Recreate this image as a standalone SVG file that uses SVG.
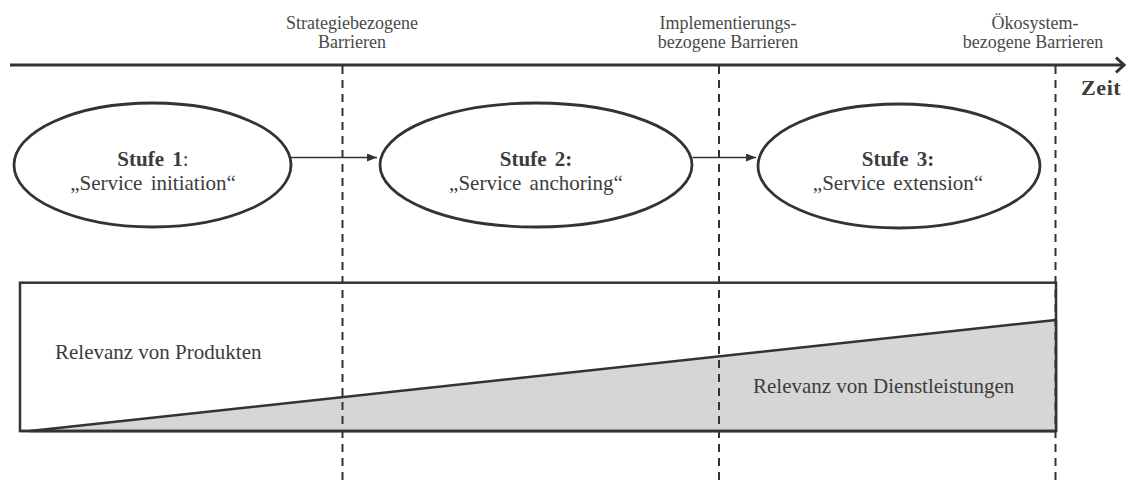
<svg xmlns="http://www.w3.org/2000/svg" width="1126" height="483" viewBox="0 0 1126 483">
<style>
.t{font-family:"Liberation Serif","Times New Roman",serif;fill:#3c3c3c}
.lbl{font-size:18px;text-anchor:middle;fill:#4a4a4a}
.st{font-size:21px;text-anchor:middle;word-spacing:3px}
.b{font-weight:bold}
.ell{fill:#fff;stroke:#333;stroke-width:2.8}
.dash{stroke:#333;stroke-width:2;stroke-dasharray:8 6;fill:none}
.conn{stroke:#333;stroke-width:1.5;fill:none}
</style>
<defs>
<marker id="ah" markerWidth="10" markerHeight="8" refX="10" refY="4" orient="auto" markerUnits="userSpaceOnUse">
<path d="M0,0 L10,4 L0,8 Z" fill="#333"/>
</marker>
</defs>
<rect width="1126" height="483" fill="#fff"/>
<g id="timeline">
<line x1="10" y1="65" x2="1123" y2="65" stroke="#333" stroke-width="3"/>
<polyline points="1116,57.5 1124,65 1116,72.5" fill="none" stroke="#333" stroke-width="3"/>
<text class="t b" x="1081" y="95" font-size="22" letter-spacing="0.6">Zeit</text>
</g>
<g id="relevance">
<rect x="20" y="282.7" width="1036" height="148.3" fill="#fff" stroke="#333" stroke-width="2.5"/>
<polygon points="30,431 1056,320 1056,431" fill="#d6d6d6" stroke="#333" stroke-width="2.5" stroke-linejoin="round"/>
<line x1="20" y1="431" x2="1056" y2="431" stroke="#333" stroke-width="2.5"/>
<text class="t" x="55" y="359" font-size="21">Relevanz von Produkten</text>
<text class="t" x="753" y="393" font-size="21">Relevanz von Dienstleistungen</text>
</g>
<g id="barriers">
<line class="dash" x1="342.5" y1="66" x2="342.5" y2="483"/>
<line class="dash" x1="719" y1="66" x2="719" y2="483"/>
<line class="dash" x1="1055.5" y1="66" x2="1055.5" y2="483"/>
<text class="t lbl" x="352" y="29">Strategiebezogene</text>
<text class="t lbl" x="352" y="48">Barrieren</text>
<text class="t lbl" x="728" y="29">Implementierungs-</text>
<text class="t lbl" x="728" y="48">bezogene Barrieren</text>
<text class="t lbl" x="1035" y="29">Ökosystem-</text>
<text class="t lbl" x="1033" y="48">bezogene Barrieren</text>
</g>
<g id="stufe1">
<ellipse class="ell" cx="152.5" cy="165" rx="138.5" ry="62"/>
<text class="t st" x="153" y="166"><tspan class="b">Stufe 1</tspan>:</text>
<text class="t st" x="153" y="190">„Service initiation“</text>
</g>
<g id="stufe2">
<ellipse class="ell" cx="536" cy="165" rx="156" ry="62"/>
<text class="t st b" x="536" y="166">Stufe 2:</text>
<text class="t st" x="536" y="190">„Service anchoring“</text>
</g>
<g id="stufe3">
<ellipse class="ell" cx="899" cy="166" rx="141" ry="62"/>
<text class="t st b" x="898" y="166">Stufe 3:</text>
<text class="t st" x="898" y="190">„Service extension“</text>
</g>
<g id="connectors">
<line class="conn" x1="291" y1="157.5" x2="377" y2="157.5" marker-end="url(#ah)"/>
<line class="conn" x1="692.5" y1="157.5" x2="756" y2="157.5" marker-end="url(#ah)"/>
</g>
</svg>
